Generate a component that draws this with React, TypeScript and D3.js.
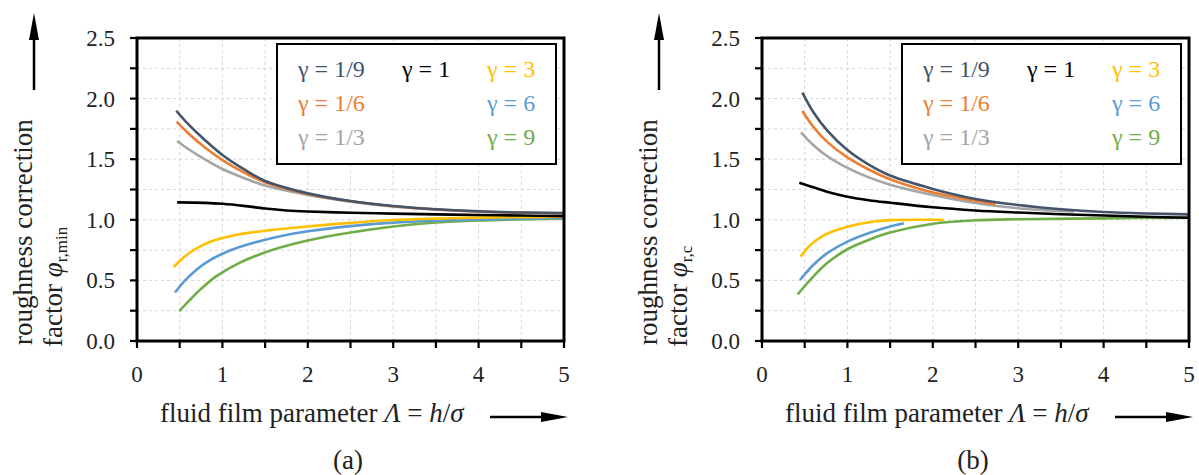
import React from 'react';
import * as d3 from 'd3';

// ---------- data ----------
const X_TICKS = [0, 1, 2, 3, 4, 5];
const X_GRID = [0.5, 1, 1.5, 2, 2.5, 3, 3.5, 4, 4.5, 5];
const X_TICK_MARKS = [0, 0.5, 1, 1.5, 2, 2.5, 3, 3.5, 4, 4.5, 5];
const Y_TICKS = [0, 0.5, 1, 1.5, 2, 2.5];
const Y_GRID = [0.25, 0.5, 0.75, 1, 1.25, 1.5, 1.75, 2, 2.25];
const Y_TICK_MARKS = [0, 0.25, 0.5, 0.75, 1, 1.25, 1.5, 1.75, 2, 2.25, 2.5];

const SERIES_LABELS = ['γ = 1/9', 'γ = 1/6', 'γ = 1/3', 'γ = 1', 'γ = 3', 'γ = 6', 'γ = 9'];
const SERIES_COLORS = ['#44546a', '#ed7d31', '#a5a5a5', '#000000', '#ffc000', '#5b9bd5', '#70ad47'];

// panel (a): phi_r,min
const A_G19 = [[0.46, 1.9], [0.6, 1.789], [0.8, 1.655], [1.0, 1.535], [1.25, 1.418], [1.5, 1.32], [2.0, 1.218], [2.5, 1.155], [3.0, 1.114], [3.5, 1.087], [4.0, 1.07], [4.5, 1.06], [5.0, 1.055]];
const A_G16 = [[0.465, 1.81], [0.6, 1.714], [0.8, 1.594], [1.0, 1.493], [1.25, 1.392], [1.5, 1.309], [2.0, 1.213], [2.5, 1.153], [3.0, 1.112], [3.5, 1.085], [4.0, 1.068], [4.5, 1.059], [5.0, 1.054]];
const A_G13 = [[0.47, 1.65], [0.6, 1.584], [0.8, 1.496], [1.0, 1.419], [1.25, 1.345], [1.5, 1.282], [2.0, 1.205], [2.5, 1.15], [3.0, 1.11], [3.5, 1.085], [4.0, 1.067], [4.5, 1.058], [5.0, 1.052]];
const A_G1 = [[0.47, 1.144], [0.8, 1.14], [1.0, 1.132], [1.25, 1.115], [1.5, 1.093], [1.75, 1.077], [2.0, 1.068], [2.5, 1.058], [3.0, 1.051], [3.5, 1.045], [4.0, 1.04], [4.5, 1.035], [5.0, 1.03]];
const A_G3 = [[0.43, 0.61], [0.5, 0.66], [0.6, 0.72], [0.75, 0.785], [0.9, 0.83], [1.1, 0.867], [1.5, 0.91], [2.0, 0.945], [2.5, 0.975], [3.0, 0.998], [3.5, 1.01], [4.0, 1.018], [5.0, 1.025]];
const A_G6 = [[0.445, 0.4], [0.55, 0.49], [0.7, 0.59], [0.85, 0.665], [1.0, 0.72], [1.2, 0.775], [1.6, 0.852], [2.0, 0.905], [2.5, 0.948], [3.0, 0.977], [3.5, 0.993], [4.0, 1.003], [5.0, 1.015]];
const A_G9 = [[0.495, 0.247], [0.6, 0.325], [0.75, 0.43], [0.93, 0.535], [1.2, 0.645], [1.6, 0.755], [2.0, 0.83], [2.5, 0.895], [3.0, 0.945], [3.5, 0.978], [4.0, 0.995], [5.0, 1.01]];

// panel (b): phi_r,c
const B_G19 = [[0.473, 2.05], [0.6, 1.89], [0.76, 1.74], [1.0, 1.575], [1.25, 1.455], [1.5, 1.365], [2.0, 1.255], [2.5, 1.172], [3.0, 1.122], [3.5, 1.087], [4.0, 1.064], [4.5, 1.052], [5.0, 1.045]];
const B_G16 = [[0.473, 1.898], [0.6, 1.768], [0.76, 1.645], [1.0, 1.515], [1.25, 1.415], [1.5, 1.335], [2.0, 1.226], [2.5, 1.158], [2.73, 1.128]];
const B_G13 = [[0.457, 1.722], [0.6, 1.617], [0.76, 1.526], [1.0, 1.428], [1.25, 1.35], [1.5, 1.29], [2.0, 1.205], [2.5, 1.138], [3.0, 1.095], [3.3, 1.08], [3.65, 1.068]];
const B_G1 = [[0.437, 1.306], [0.6, 1.268], [0.76, 1.232], [1.0, 1.191], [1.25, 1.162], [1.5, 1.141], [2.0, 1.103], [2.5, 1.077], [3.0, 1.06], [3.5, 1.046], [4.0, 1.035], [4.5, 1.025], [5.0, 1.017]];
const B_G3 = [[0.453, 0.696], [0.55, 0.78], [0.65, 0.84], [0.76, 0.885], [1.0, 0.943], [1.27, 0.982], [1.5, 0.997], [2.0, 1.0], [2.125, 1.0]];
const B_G6 = [[0.445, 0.503], [0.6, 0.627], [0.76, 0.723], [1.0, 0.82], [1.27, 0.895], [1.5, 0.945], [1.66, 0.972]];
const B_G9 = [[0.418, 0.385], [0.6, 0.531], [0.76, 0.641], [1.0, 0.757], [1.27, 0.84], [1.5, 0.895], [2.0, 0.968], [2.5, 0.996], [3.0, 1.005], [4.0, 1.012], [5.0, 1.018]];

const PANEL_A = [A_G19, A_G16, A_G13, A_G1, A_G3, A_G6, A_G9];
const PANEL_B = [B_G19, B_G16, B_G13, B_G1, B_G3, B_G6, B_G9];

// ---------- layout ----------
const FONT = "'Liberation Serif', serif";
const LEGEND_CELLS = [[0, 0], [0, 1], [0, 2], [1, 0], [2, 0], [2, 1], [2, 2]];
const LEGEND_COL_X = [161, 265, 350];
const LEGEND_ROW_Y = [39, 73, 107];
const DRAW_ORDER = [6, 5, 4, 3, 2, 1, 0];

type Pt = number[];

function Panel({ ox, series, sub, caption }: { ox: number; series: Pt[][]; sub: string; caption: string }) {
  const L = ox + 137, T = 38, W = 427, H = 303;
  const x = d3.scaleLinear().domain([0, 5]).range([L, L + W]);
  const y = d3.scaleLinear().domain([0, 2.5]).range([T + H, T]);
  const line = d3.line<Pt>().x(d => x(d[0])).y(d => y(d[1])).curve(d3.curveCatmullRom.alpha(0.5));

  return (
    <g>
      {X_GRID.map(v => (
        <line key={'gx' + v} x1={x(v)} x2={x(v)} y1={T} y2={T + H} stroke="#d6d6d6" strokeWidth={1} strokeDasharray="3,3" />
      ))}
      {Y_GRID.map(v => (
        <line key={'gy' + v} x1={L} x2={L + W} y1={y(v)} y2={y(v)} stroke="#d6d6d6" strokeWidth={1} strokeDasharray="3,3" />
      ))}

      {DRAW_ORDER.map(i => (
        <path key={'s' + i} d={line(series[i]) || ''} fill="none" stroke={SERIES_COLORS[i]} strokeWidth={2.6} />
      ))}

      <rect x={L} y={T} width={W} height={H} fill="none" stroke="#000" strokeWidth={3} />
      {Y_TICK_MARKS.map(v => (
        <line key={'ty' + v} x1={L - 7} x2={L} y1={y(v)} y2={y(v)} stroke="#000" strokeWidth={2.2} />
      ))}
      {X_TICK_MARKS.map(v => (
        <line key={'tx' + v} x1={x(v)} x2={x(v)} y1={T + H} y2={T + H + 7} stroke="#000" strokeWidth={2.2} />
      ))}

      {Y_TICKS.map(v => (
        <text key={'ly' + v} x={L - 22} y={y(v) + 8} textAnchor="end" fontSize={23} fontFamily={FONT} fill="#222">
          {v.toFixed(1)}
        </text>
      ))}
      {X_TICKS.map(v => (
        <text key={'lx' + v} x={x(v)} y={382} textAnchor="middle" fontSize={23} fontFamily={FONT} fill="#222">
          {String(v)}
        </text>
      ))}

      <rect x={L + 140} y={T + 6} width={279} height={120} fill="#fff" stroke="#000" strokeWidth={2} />
      {SERIES_LABELS.map((lab, i) => (
        <text key={'lg' + i} x={L + LEGEND_COL_X[LEGEND_CELLS[i][0]]} y={T + LEGEND_ROW_Y[LEGEND_CELLS[i][1]]}
          fontSize={24} fontFamily={FONT} fill={SERIES_COLORS[i]}>
          {lab}
        </text>
      ))}

      <text transform={`translate(${ox + 32},345) rotate(-90)`} fontSize={27} fontFamily={FONT} fill="#222">
        roughness correction
      </text>
      <text transform={`translate(${ox + 62},347) rotate(-90)`} fontSize={27} fontFamily={FONT} fill="#222">
        factor <tspan fontStyle="italic">φ</tspan><tspan fontSize={17} dy={5}>{sub}</tspan>
      </text>
      <line x1={ox + 34} x2={ox + 34} y1={90} y2={36} stroke="#000" strokeWidth={2.5} />
      <polygon points={`${ox + 34},13 ${ox + 29},40 ${ox + 39},40`} fill="#000" />

      <text x={ox + 160} y={422} fontSize={27} fontFamily={FONT} fill="#222">
        fluid film parameter <tspan fontStyle="italic">Λ</tspan> = <tspan fontStyle="italic">h</tspan>/<tspan fontStyle="italic">σ</tspan>
      </text>
      <line x1={ox + 490} x2={ox + 545} y1={417} y2={417} stroke="#000" strokeWidth={2.5} />
      <polygon points={`${ox + 568},417 ${ox + 541},412 ${ox + 541},422`} fill="#000" />

      <text x={ox + 348} y={469} textAnchor="middle" fontSize={27} fontFamily={FONT} fill="#222">
        {caption}
      </text>
    </g>
  );
}

export default function App() {
  return (
    <svg width={1199} height={475} viewBox="0 0 1199 475"
      style={{ position: 'absolute', left: 0, top: 0, background: '#fff', fontFamily: FONT }}>
      <rect x={0} y={0} width={1199} height={475} fill="#fff" />
      <Panel ox={0} series={PANEL_A} sub="r,min" caption="(a)" />
      <Panel ox={625} series={PANEL_B} sub="r,c" caption="(b)" />
    </svg>
  );
}
